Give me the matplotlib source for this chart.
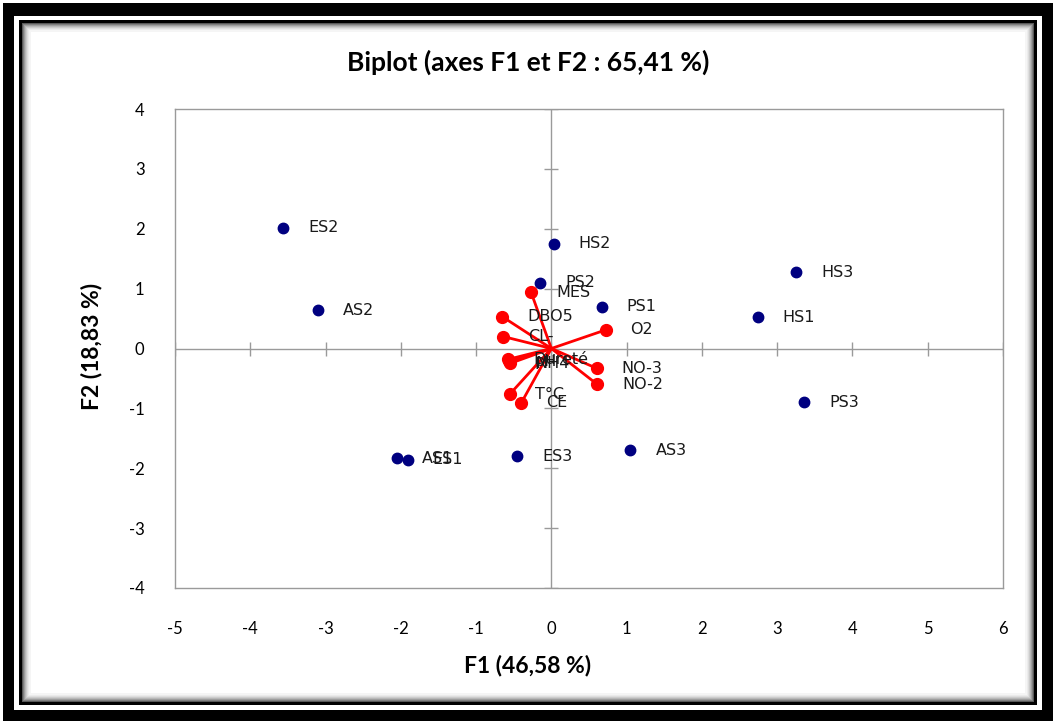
import matplotlib
matplotlib.use("Agg")
import matplotlib.pyplot as plt
from matplotlib.patches import Rectangle

obs_names = ["ES2", "AS2", "HS2", "PS2", "PS1", "HS3", "HS1", "PS3", "AS3", "ES3", "AS1", "ES1"]
obs_f1 = [-3.56, -3.10, 0.03, -0.15, 0.67, 3.25, 2.74, 3.36, 1.05, -0.45, -2.05, -1.91]
obs_f2 = [2.02, 0.64, 1.75, 1.10, 0.70, 1.27, 0.52, -0.90, -1.70, -1.80, -1.83, -1.86]

var_names = ["MES", "DBO5", "CL-", "O2", "Dureté", "pH", "NH4", "NO-3", "NO-2", "T°C", "CE"]
var_f1 = [-0.27, -0.65, -0.64, 0.72, -0.57, -0.56, -0.55, 0.60, 0.61, -0.55, -0.40]
var_f2 = [0.94, 0.53, 0.20, 0.31, -0.18, -0.21, -0.25, -0.33, -0.60, -0.76, -0.91]

x_ticks = list(range(-5, 7))
y_ticks = list(range(-4, 5))

title = "Biplot (axes F1 et F2 : 65,41 %)"
xlabel = "F1 (46,58 %)"
ylabel = "F2 (18,83 %)"

W, H = 1056, 724
fig = plt.figure(figsize=(W / 100, H / 100), dpi=100)
fig.patch.set_facecolor("white")

def frect(x0, y0, x1, y1, **kw):
    fig.patches.append(Rectangle((x0 / W, 1 - y1 / H), (x1 - x0) / W, (y1 - y0) / H,
                                 transform=fig.transFigure, zorder=-10, **kw))

# decorative frame
frect(3, 3, W - 3, H - 3, facecolor="black", edgecolor="none")
frect(14, 16, W - 14, H - 14, facecolor="white", edgecolor="none")
frect(19, 20, W - 19, H - 19, facecolor="black", edgecolor="none")
for i, g in enumerate([0.35, 0.5, 0.62, 0.72, 0.8, 0.87, 0.92, 0.96]):
    frect(22 + i, 23 + i, W - 22 - i, H - 22 - i, facecolor=str(g), edgecolor="none")
frect(31, 32, W - 31, H - 31, facecolor="white", edgecolor="none")

ax = fig.add_axes([175 / W, 1 - 588 / H, (1003 - 175) / W, (588 - 109) / H])
ax.set_zorder(1)
ax.set_facecolor("white")
ax.set_xlim(-5, 6)
ax.set_ylim(-4, 4)
ax.set_xticks(x_ticks)
ax.set_yticks(y_ticks)
tick_font = dict(family="Lato", size=12)
ax.set_xticklabels([str(t) for t in x_ticks], **tick_font)
ax.set_yticklabels([str(t) for t in y_ticks], **tick_font)
ax.tick_params(length=0)
ax.tick_params(axis="x", pad=24)
ax.tick_params(axis="y", pad=22)
for s in ax.spines.values():
    s.set_color("#9a9a9a")
    s.set_linewidth(1.0)

# zero axes with tick marks
ax.axhline(0, color="#9a9a9a", lw=1.0, zorder=1)
ax.axvline(0, color="#9a9a9a", lw=1.0, zorder=1)
ax.plot(x_ticks, [0] * len(x_ticks), ls="none", marker="|", ms=10, color="#9a9a9a", mew=1.0, zorder=1)
ax.plot([0] * len(y_ticks), y_ticks, ls="none", marker="_", ms=10, color="#9a9a9a", mew=1.0, zorder=1)

# variable vectors
for n, x, y in zip(var_names, var_f1, var_f2):
    ax.plot([0, x], [0, y], color="#ff0000", lw=2, zorder=3)
ax.plot(var_f1, var_f2, ls="none", marker="o", ms=8.5, color="#ff0000", zorder=4)

# observations
ax.plot(obs_f1, obs_f2, ls="none", marker="o", ms=7.5, color="#000080", zorder=5)

lab_font = dict(family="DejaVu Sans", size=11.5, color="#1a1a1a")
off = 25 / 75.3
for n, x, y in zip(obs_names, obs_f1, obs_f2):
    ax.text(x + off, y, n, ha="left", va="center", zorder=6, **lab_font)
for n, x, y in zip(var_names, var_f1, var_f2):
    ax.text(x + off, y, n, ha="left", va="center", zorder=6, **lab_font)

fig.text(0.5, 1 - 62 / H, title, ha="center", va="center", family="Lato", weight="bold", size=19)
fig.text(0.5, 1 - 665 / H, xlabel, ha="center", va="center", family="Lato", weight="bold", size=16.5)
fig.text(92 / W, 1 - 346 / H, ylabel, ha="center", va="center", rotation=90, family="Lato", weight="bold", size=16.5)

fig.savefig("out.png", dpi=100, facecolor=fig.get_facecolor())
